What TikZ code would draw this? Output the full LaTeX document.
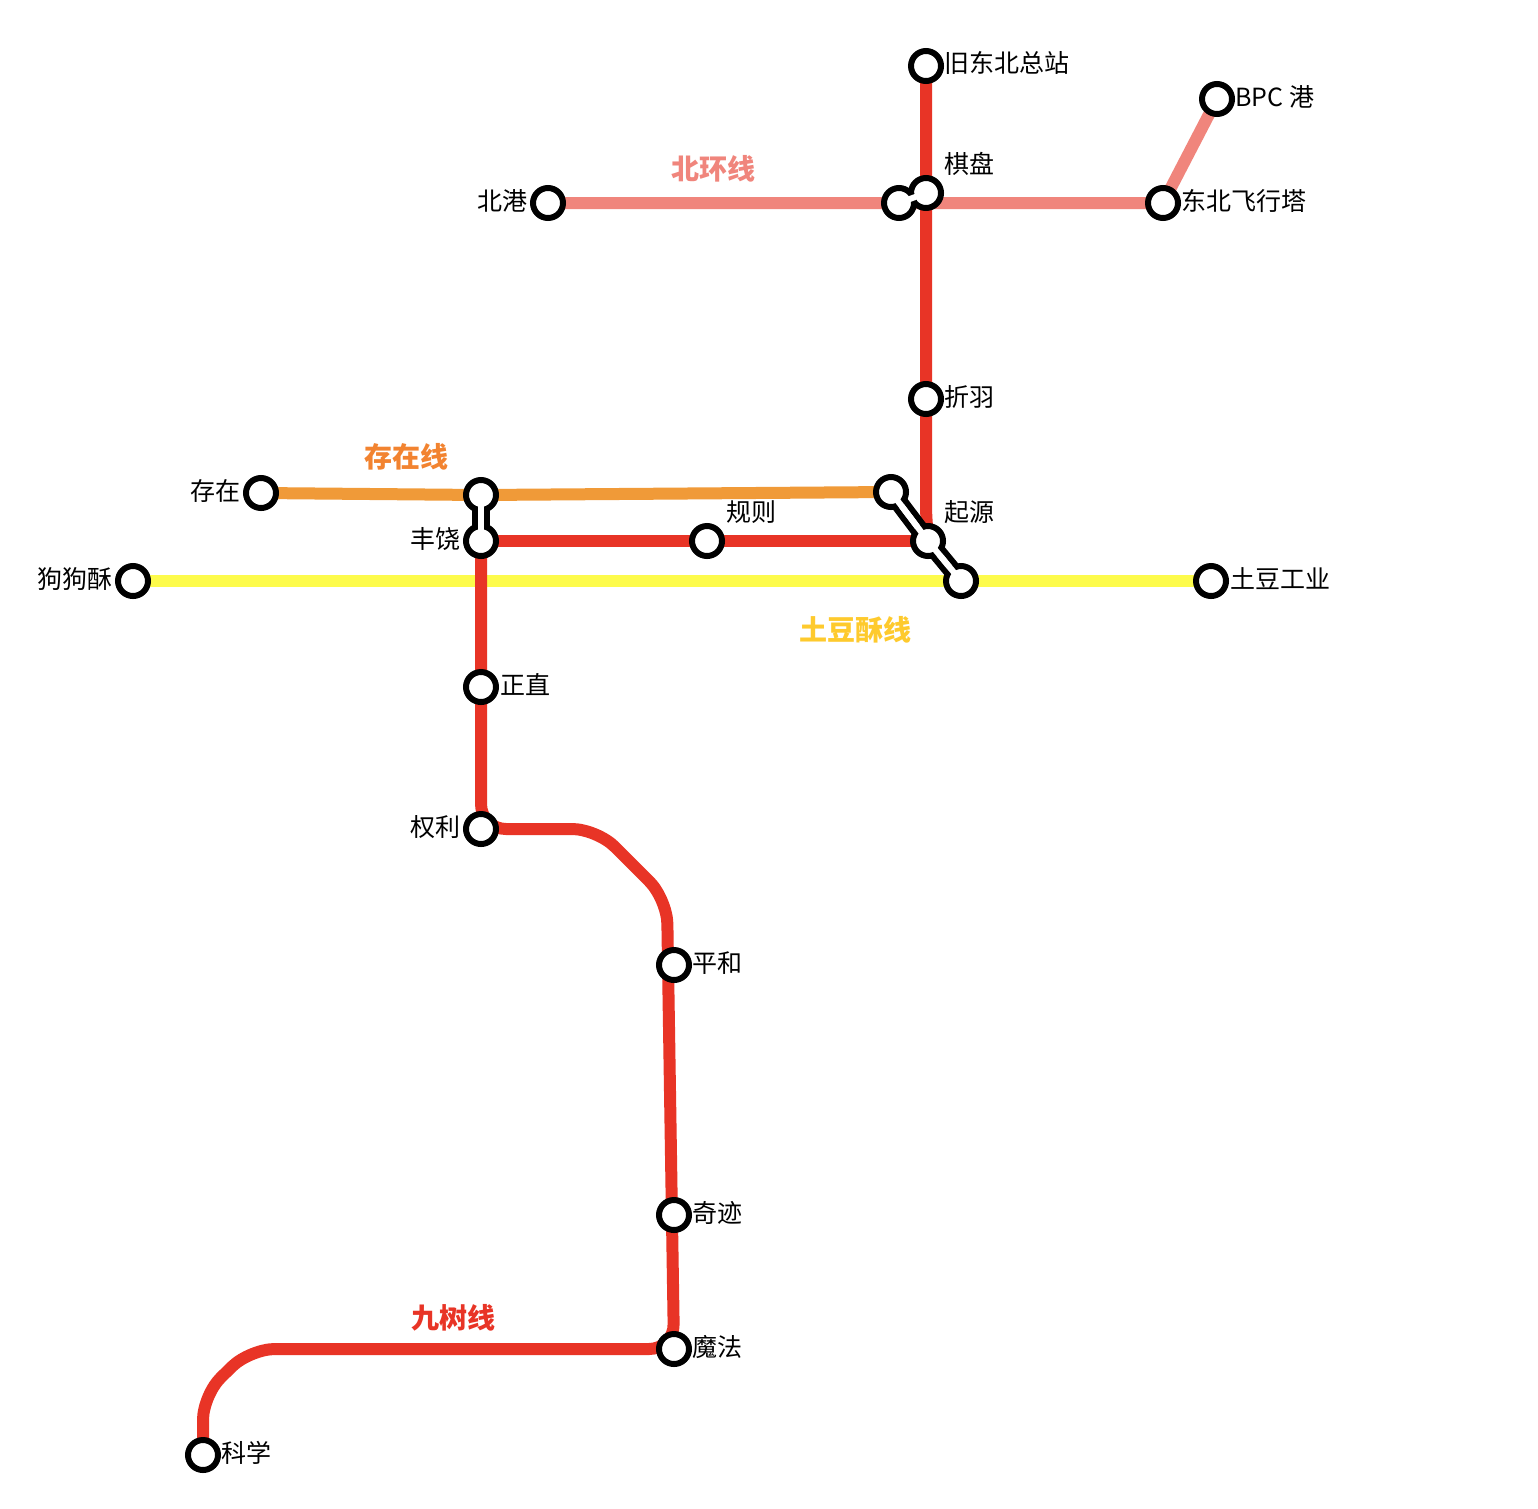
\documentclass[tikz,border=0pt]{standalone}
\usepackage{fontspec}
\setmainfont{Noto Sans CJK SC}
\definecolor{jred}{HTML}{E83426}
\definecolor{jpink}{HTML}{F0857C}
\definecolor{jorange}{HTML}{F09A38}
\definecolor{jyellow}{HTML}{FDFB4B}
\begin{document}
\begin{tikzpicture}[x=1pt,y=-1pt,
  line/.style={line width=12pt},
  st/.style={circle,draw=black,fill=white,line width=6pt,minimum size=30pt,inner sep=0pt},
  lbl/.style={font=\fontsize{25}{25}\selectfont,inner sep=2pt},
  lname/.style={font=\fontsize{28}{28}\selectfont\bfseries,inner sep=0pt}]
\useasboundingbox[fill=white] (0,0) rectangle (1538,1508);
% stations
\coordinate (a0) at (926,66);
\coordinate (qr) at (926,193);
\coordinate (qp) at (899,203);
\coordinate (zy) at (926,399);
\coordinate (bg) at (548,203);
\coordinate (df) at (1163,203);
\coordinate (bpc) at (1217,99);
\coordinate (cz) at (261,493);
\coordinate (fo) at (481,495);
\coordinate (fr) at (481,541);
\coordinate (gz) at (707,541);
\coordinate (qo) at (891,492);
\coordinate (qrr) at (928,541);
\coordinate (qy) at (961,581);
\coordinate (gg) at (133,581);
\coordinate (td) at (1211,581);
\coordinate (zz) at (481,687);
\coordinate (ql) at (481,829);
\coordinate (ph) at (674,965);
\coordinate (qj) at (674,1215);
\coordinate (mf) at (674,1349);
\coordinate (kx) at (203,1455);
% lines
\draw[line,jyellow] (gg) -- (qy) -- (td);
\draw[line,jpink] (bg) -- (qp) -- (df) -- (bpc);
\draw[line,jorange] (cz) -- (fo) -- (qo);
\draw[line,jred,rounded corners=25pt] (a0) -- (926,530) -- (qrr);
\draw[line,jred] (qrr) -- (fr);
\draw[line,jred,rounded corners=25pt] (fr) -- (ql) -- (597,829) -- (667,899) -- (mf) -- (250,1349) -- (203,1395) -- (kx);
% transfers
\foreach \p/\q in {qp/qr,fo/fr,qo/qrr,qrr/qy}{
  \draw[line width=18pt,black] (\p) -- (\q);
  \draw[line width=6pt,white] (\p) -- (\q);}
\foreach \c in {a0,qr,qp,zy,bg,df,bpc,cz,fo,fr,gz,qo,qrr,qy,gg,td,zz,ql,ph,qj,mf,kx}
  \node[st] (n\c) at (\c) {};
\foreach \p/\q in {qp/qr,fo/fr,qo/qrr,qrr/qy}
  \draw[line width=6pt,white] (\p) -- (\q);
% labels
\node[lbl,anchor=west] at (942,63) {旧东北总站};
\node[lbl,anchor=west] at (942,164) {棋盘};
\node[lbl,anchor=west] at (942,397) {折羽};
\node[lbl,anchor=west] at (942,512) {起源};
\node[lbl,anchor=east] at (530,201) {北港};
\node[lbl,anchor=west] at (1179,201) {东北飞行塔};
\node[lbl,anchor=west] at (1233,97) {BPC 港};
\node[lbl,anchor=east] at (243,491) {存在};
\node[lbl,anchor=east] at (463,539) {丰饶};
\node[lbl,anchor=west] at (724,512) {规则};
\node[lbl,anchor=east] at (115,579) {狗狗酥};
\node[lbl,anchor=west] at (1228,579) {土豆工业};
\node[lbl,anchor=west] at (498,685) {正直};
\node[lbl,anchor=east] at (463,827) {权利};
\node[lbl,anchor=west] at (690,963) {平和};
\node[lbl,anchor=west] at (690,1213) {奇迹};
\node[lbl,anchor=west] at (690,1347) {魔法};
\node[lbl,anchor=west] at (219,1453) {科学};
\node[lname,text=jpink] at (713,169) {北环线};
\node[lname,text=jorange!85!red] at (406,457) {存在线};
\node[lname,text=jyellow!60!orange] at (855,630) {土豆酥线};
\node[lname,text=jred] at (453,1318) {九树线};
\end{tikzpicture}
\end{document}
